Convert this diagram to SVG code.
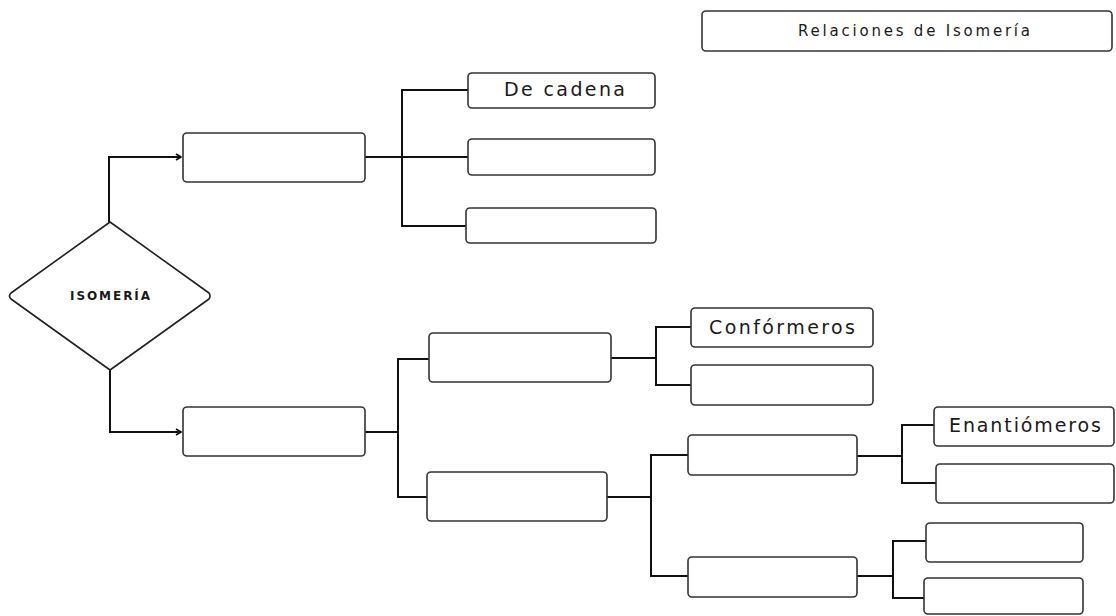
<svg xmlns="http://www.w3.org/2000/svg" width="1116" height="616" viewBox="0 0 1116 616">
  <style>
    .box { fill: #ffffff; stroke: #333333; stroke-width: 1.6; }
    .link { fill: none; stroke: #111111; stroke-width: 2; stroke-linejoin: miter; }
    .lbl { font-family: "DejaVu Sans", "Liberation Sans", sans-serif; fill: #1a1a1a; }
    .big { font-size: 19px; }
    .small { font-size: 15px; }
    .head { font-size: 12px; font-weight: bold; }
  </style>
  <defs>
    <marker id="arrow" markerWidth="8" markerHeight="8" refX="6" refY="4" orient="auto" markerUnits="userSpaceOnUse">
      <path d="M1,1 L6,4 L1,7" fill="none" stroke="#111111" stroke-width="1.8" stroke-linejoin="round"/>
    </marker>
  </defs>
  <rect width="1116" height="616" fill="#ffffff"/>

  <!-- connectors -->
  <g id="connectors">
    <!-- root to the two main branches -->
    <path class="link" d="M109,222 V157 H181" marker-end="url(#arrow)"/>
    <path class="link" d="M110,370 V432 H181" marker-end="url(#arrow)"/>
    <!-- upper branch -->
    <path class="link" d="M365,157 H402"/>
    <path class="link" d="M468,90 H402 V226 H466"/>
    <path class="link" d="M402,157 H468"/>
    <!-- lower branch -->
    <path class="link" d="M365,432 H398"/>
    <path class="link" d="M429,359 H398 V497 H427"/>
    <!-- box A children -->
    <path class="link" d="M611,358 H656"/>
    <path class="link" d="M691,327 H656 V385 H691"/>
    <!-- box B children -->
    <path class="link" d="M607,497 H651"/>
    <path class="link" d="M688,455 H651 V576 H688"/>
    <!-- box C children -->
    <path class="link" d="M857,456 H902"/>
    <path class="link" d="M934,425 H902 V483 H936"/>
    <!-- box D children -->
    <path class="link" d="M857,576 H893"/>
    <path class="link" d="M926,541 H893 V598 H924"/>
  </g>

  <g id="title">
    <rect class="box" x="702" y="11" width="410" height="40" rx="4"/>
    <text class="lbl small" x="798" y="36" textLength="232" lengthAdjust="spacing">Relaciones de Isomería</text>
  </g>

  <g id="isomeria">
    <path d="M110,222 L209,293 Q211,296 209,299 L110,370 L11,299 Q8,296 11,293 Z" fill="#ffffff" stroke="#222222" stroke-width="1.6" stroke-linejoin="round"/>
    <text class="lbl head" x="70" y="300" textLength="80" lengthAdjust="spacing">ISOMERÍA</text>
  </g>

  <g id="branch-upper">
    <rect class="box" x="183" y="133" width="182" height="49" rx="4"/>
  </g>
  <g id="de-cadena">
    <rect class="box" x="468" y="73" width="187" height="35" rx="4"/>
    <text class="lbl big" x="504" y="96" textLength="121" lengthAdjust="spacing">De cadena</text>
  </g>
  <g id="upper-2">
    <rect class="box" x="468" y="139" width="187" height="36" rx="4"/>
  </g>
  <g id="upper-3">
    <rect class="box" x="466" y="208" width="190" height="35" rx="4"/>
  </g>

  <g id="branch-lower">
    <rect class="box" x="183" y="407" width="182" height="49" rx="4"/>
  </g>
  <g id="lower-a">
    <rect class="box" x="429" y="333" width="182" height="49" rx="4"/>
  </g>
  <g id="lower-b">
    <rect class="box" x="427" y="472" width="180" height="49" rx="4"/>
  </g>
  <g id="conformeros">
    <rect class="box" x="691" y="308" width="182" height="39" rx="4"/>
    <text class="lbl big" x="709" y="334" textLength="146" lengthAdjust="spacing">Confórmeros</text>
  </g>
  <g id="a-2">
    <rect class="box" x="691" y="365" width="182" height="40" rx="4"/>
  </g>
  <g id="lower-c">
    <rect class="box" x="688" y="435" width="169" height="40" rx="4"/>
  </g>
  <g id="lower-d">
    <rect class="box" x="688" y="557" width="169" height="40" rx="4"/>
  </g>
  <g id="enantiomeros">
    <rect class="box" x="934" y="407" width="180" height="39" rx="4"/>
    <text class="lbl big" x="949" y="432" textLength="152" lengthAdjust="spacing">Enantiómeros</text>
  </g>
  <g id="c-2">
    <rect class="box" x="936" y="464" width="178" height="39" rx="4"/>
  </g>
  <g id="d-1">
    <rect class="box" x="926" y="523" width="157" height="39" rx="4"/>
  </g>
  <g id="d-2">
    <rect class="box" x="924" y="578" width="159" height="36" rx="4"/>
  </g>
</svg>
